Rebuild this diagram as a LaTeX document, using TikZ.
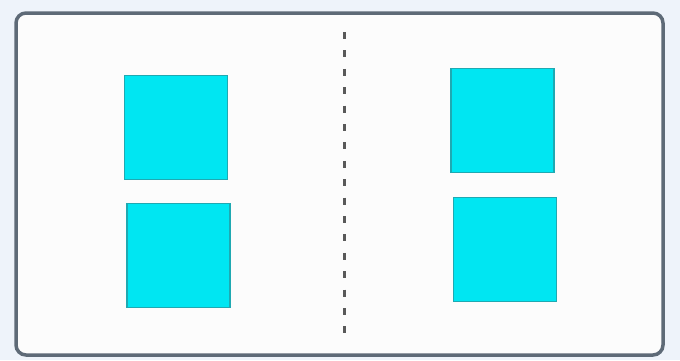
\documentclass[tikz,border=0pt]{standalone}
\usepackage{xcolor}
\usepackage{tikz}
\usetikzlibrary{positioning}

\definecolor{tilefill}{HTML}{00E6F2}
\definecolor{tileedge}{HTML}{1FA9B2}
\definecolor{frameedge}{HTML}{5E6A77}
\definecolor{paper}{HTML}{FCFCFC}
\definecolor{halo}{HTML}{EEF3FA}

\begin{document}
\begin{tikzpicture}[x=1pt, y=-1pt,
    tile/.style={draw=tileedge, fill=tilefill, line width=1.5pt, inner sep=0pt,
                 minimum width=103pt, minimum height=104pt}]
  \fill[halo] (0,0) rectangle (680,360);
  \useasboundingbox (0,0) rectangle (680,360);
  \draw[frameedge, fill=paper, line width=3.5pt, rounded corners=10pt] (16,13) rectangle (663,355);
  % fold line
  \coordinate (foldtop) at (344,32);
  \coordinate (foldbot) at (344,342);
  \draw[gray!70!black, line width=3pt, dash pattern=on 7pt off 11.4pt] (foldtop) -- (foldbot);
  % left half
  \node[tile] (lefttop) at (176,127.5) {};
  \node[tile] (leftbot) at (178.5,255.5) {};
  % right half
  \node[tile] (righttop) at (502.5,120.5) {};
  \node[tile] (rightbot) at (505,249.5) {};
\end{tikzpicture}
\end{document}
